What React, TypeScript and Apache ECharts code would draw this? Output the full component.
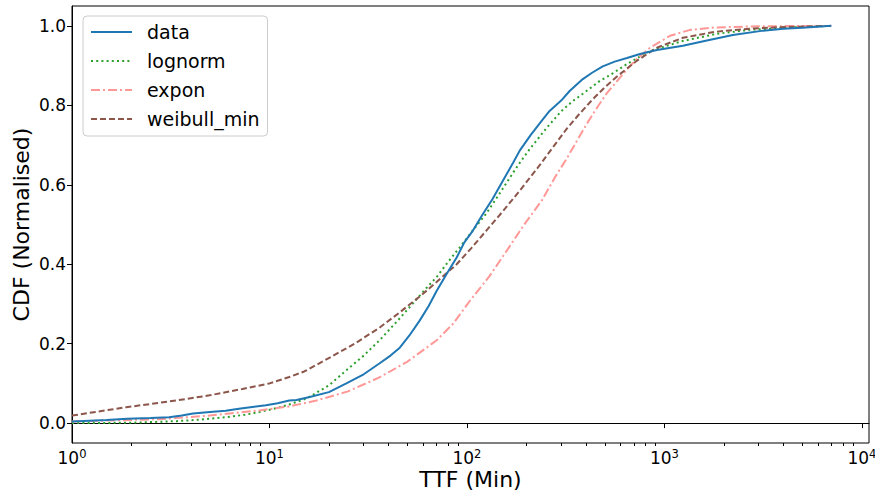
import React, { useEffect, useRef } from "react";
import * as echarts from "echarts";

const seriesNames = ["data", "lognorm", "expon", "weibull_min"];
const seriesColors = ["#1f77b4", "#2ca02c", "#ff9896", "#8c564b"];

const dataCdf: [number, number][] = [
  [1, 0.004], [1.5, 0.008], [1.9, 0.011], [2.5, 0.013], [3.1, 0.015], [3.6, 0.019],
  [4.1, 0.024], [5, 0.028], [6, 0.031], [7, 0.036], [8, 0.04], [9.6, 0.045],
  [11, 0.05], [12.6, 0.057], [13.7, 0.058], [16, 0.066], [20, 0.078], [24.5, 0.1],
  [30, 0.123], [36, 0.15], [41, 0.17], [45.7, 0.19], [51, 0.22], [57.6, 0.258],
  [64, 0.295], [70.3, 0.333], [79, 0.376], [88.7, 0.417], [97, 0.455], [107, 0.484],
  [120, 0.525], [135, 0.565], [150, 0.605], [171, 0.655], [185, 0.686], [210, 0.725],
  [234, 0.755], [262, 0.786], [300, 0.812], [331, 0.836], [386, 0.866], [430, 0.882],
  [487, 0.898], [560, 0.91], [646, 0.919], [752, 0.929], [915, 0.939], [1240, 0.95],
  [1640, 0.963], [2220, 0.977], [3160, 0.988], [4000, 0.993], [5000, 0.995], [7000, 1.0],
];

const lognormCdf: [number, number][] = [
  [1, 0.0], [2, 0.001], [3.4, 0.005], [4.5, 0.009], [6, 0.015], [7.5, 0.021],
  [8.9, 0.028], [10.5, 0.036], [12.6, 0.047], [15.4, 0.062], [20, 0.095], [24.5, 0.133],
  [30, 0.17], [36, 0.208], [44, 0.255], [53, 0.3], [61, 0.335], [70.3, 0.368],
  [80, 0.405], [91.8, 0.442], [107, 0.485], [125, 0.527], [145, 0.575], [171, 0.63],
  [185, 0.655], [208, 0.69], [254, 0.744], [300, 0.785], [344, 0.811], [386, 0.829],
  [472, 0.862], [530, 0.876], [646, 0.904], [845, 0.937], [1240, 0.962], [1840, 0.98],
  [2700, 0.99], [4000, 0.995], [7000, 1.0],
];

const exponCdf: [number, number][] = [
  [1, 0.004], [2.77, 0.01], [4.97, 0.019], [8.9, 0.032], [12.6, 0.042], [17.3, 0.057],
  [25, 0.08], [36, 0.115], [50, 0.155], [70, 0.208], [85, 0.25], [103.5, 0.308],
  [130, 0.37], [159, 0.434], [195, 0.5], [239, 0.56], [280, 0.62], [319, 0.665],
  [360, 0.71], [404, 0.753], [450, 0.79], [510, 0.83], [617, 0.879], [724, 0.917],
  [845, 0.945], [1067, 0.975], [1350, 0.99], [1800, 0.996], [3000, 0.999], [7000, 1.0],
];

const weibullCdf: [number, number][] = [
  [1, 0.019], [1.88, 0.04], [3.37, 0.057], [4.97, 0.07], [7.3, 0.086], [10, 0.1],
  [12.6, 0.116], [15, 0.13], [20.2, 0.165], [27, 0.2], [36, 0.24], [46, 0.28],
  [59.7, 0.325], [72, 0.36], [88.7, 0.4], [105, 0.44], [125, 0.484], [150, 0.53],
  [185, 0.585], [234, 0.65], [273, 0.695], [319, 0.74], [366, 0.775], [433, 0.815],
  [500, 0.846], [573, 0.872], [724, 0.912], [915, 0.945], [1240, 0.97], [1800, 0.985],
  [2700, 0.993], [4000, 0.997], [7000, 1.0],
];

const xMajorTicks = [1, 10, 100, 1000, 10000];
const xMinorTicks = [
  2, 3, 4, 5, 6, 7, 8, 9,
  20, 30, 40, 50, 60, 70, 80, 90,
  200, 300, 400, 500, 600, 700, 800, 900,
  2000, 3000, 4000, 5000, 6000, 7000, 8000, 9000,
];
const yTicks = [0, 0.2, 0.4, 0.6, 0.8, 1.0];

const FONT = "DejaVu Sans";

export default function App() {
  const ref = useRef<HTMLDivElement>(null);
  useEffect(() => {
    if (!ref.current) return;
    const chart = echarts.init(ref.current, null, { renderer: "svg" });
    const allData = [dataCdf, lognormCdf, exponCdf, weibullCdf];
    const lineTypes: any[] = ["solid", [2, 3.2], [9, 3, 2, 3], [6, 3]];
    chart.setOption({
      animation: false,
      backgroundColor: "#ffffff",
      textStyle: { fontFamily: FONT },
      grid: {
        left: 72,
        right: 6,
        top: 6,
        bottom: 51,
        show: true,
        borderColor: "#000",
        borderWidth: 1,
        backgroundColor: "transparent",
        outerBoundsMode: "none",
        containLabel: false,
      },
      legend: {
        orient: "vertical",
        left: 83,
        top: 16,
        data: seriesNames,
        itemWidth: 41,
        itemHeight: 14,
        itemGap: 9,
        padding: [6, 8, 7, 7],
        backgroundColor: "rgba(255,255,255,0.8)",
        borderColor: "#cccccc",
        borderWidth: 1,
        borderRadius: 4,
        itemStyle: { opacity: 0 },
        textStyle: {
          fontFamily: FONT,
          fontSize: 19,
          lineHeight: 20,
          color: "#000",
          padding: [0, 0, 0, 10],
        },
      },
      xAxis: [
        {
          type: "log",
          logBase: 10,
          min: 1,
          max: 10860,
          position: "bottom",
          name: "TTF (Min)",
          nameLocation: "middle",
          nameGap: 25,
          nameMoveOverlap: false,
          nameTextStyle: { fontFamily: FONT, fontSize: 22, color: "#000" },
          axisLine: { show: true, lineStyle: { color: "#000", width: 1 } },
          axisTick: { show: true, length: 5, customValues: xMajorTicks, lineStyle: { color: "#000" } },
          axisLabel: {
            show: true,
            customValues: xMajorTicks,
            margin: 5,
            color: "#000",
            formatter: (v: number) => `{b|10}{s|${Math.round(Math.log10(v))}}`,
            rich: {
              b: { fontFamily: FONT, fontSize: 17, color: "#000", lineHeight: 19 },
              s: { fontFamily: FONT, fontSize: 11.5, color: "#000", verticalAlign: "top", lineHeight: 12 },
            },
          },
          splitLine: { show: false },
          minorTick: { show: false },
        },
        {
          type: "log",
          logBase: 10,
          min: 1,
          max: 10860,
          position: "bottom",
          axisLine: { show: false },
          axisTick: { show: true, length: 3, customValues: xMinorTicks, lineStyle: { color: "#000" } },
          axisLabel: { show: false },
          splitLine: { show: false },
        },
      ],
      yAxis: {
        type: "value",
        min: -0.05,
        max: 1.05,
        name: "CDF (Normalised)",
        nameLocation: "middle",
        nameGap: 40,
        nameMoveOverlap: false,
        nameTextStyle: { fontFamily: FONT, fontSize: 22, color: "#000" },
        axisLine: { show: true, lineStyle: { color: "#000", width: 1 } },
        axisTick: { show: true, length: 5, customValues: yTicks, lineStyle: { color: "#000" } },
        axisLabel: {
          customValues: yTicks,
          margin: 6,
          fontFamily: FONT,
          fontSize: 17,
          color: "#000",
          formatter: (v: number) => v.toFixed(1),
        },
        splitLine: { show: false },
      },
      series: seriesNames.map((name, i) => ({
        name,
        type: "line",
        xAxisIndex: 0,
        data: allData[i],
        showSymbol: false,
        symbol: "none",
        smooth: false,
        clip: true,
        z: i === 0 ? 5 : 3,
        color: seriesColors[i],
        itemStyle: { color: seriesColors[i], opacity: 0 },
        lineStyle: { color: seriesColors[i], width: 2, type: lineTypes[i] },
      })),
    });
    return () => chart.dispose();
  }, []);
  return (
    <div
      ref={ref}
      style={{ position: "fixed", left: 0, top: 0, width: 875, height: 494 }}
    />
  );
}
